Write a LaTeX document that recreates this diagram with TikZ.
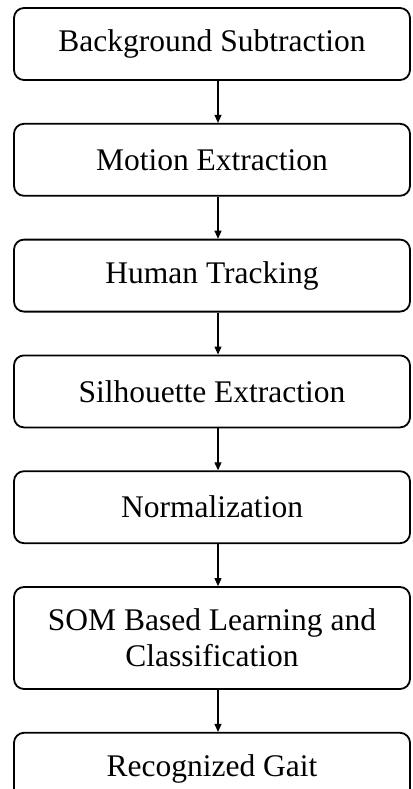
\documentclass[tikz,border=0pt]{standalone}
\usepackage{fontspec}
\setmainfont{Liberation Serif}
\usepackage{tikz}
\usetikzlibrary{arrows.meta,positioning}

\begin{document}
\begin{tikzpicture}[
  x=1pt,y=1pt,
  node distance=42pt,
  stage/.style={draw,line width=1.8pt,rounded corners=10pt,minimum width=396pt,minimum height=72pt,align=center,
    font=\fontsize{31.5}{36}\selectfont},
  route/.style={line width=1.1pt,-{Triangle[length=8pt,width=7pt]}}
]
  \useasboundingbox (0,0) rectangle (412,-789);
  \clip (0,0) rectangle (412,-789);

  \node[stage] (bgsub) at (212,-44) {Background Subtraction};
  \node[stage,below=of bgsub] (motion) {Motion Extraction};
  \node[stage,below=of motion] (track) {Human Tracking};
  \node[stage,below=of track] (silh) {Silhouette Extraction};
  \node[stage,below=of silh] (norm) {Normalization};
  \node[stage,minimum height=102pt,below=of norm] (som) {SOM Based Learning and\\Classification};
  \node[stage,below=of som] (gait) {Recognized Gait};

  \foreach \a/\b in {bgsub/motion,motion/track,track/silh,silh/norm,norm/som,som/gait}
    \draw[route] ([xshift=6pt]\a.south) -- ([xshift=6pt]\b.north);
\end{tikzpicture}
\end{document}
